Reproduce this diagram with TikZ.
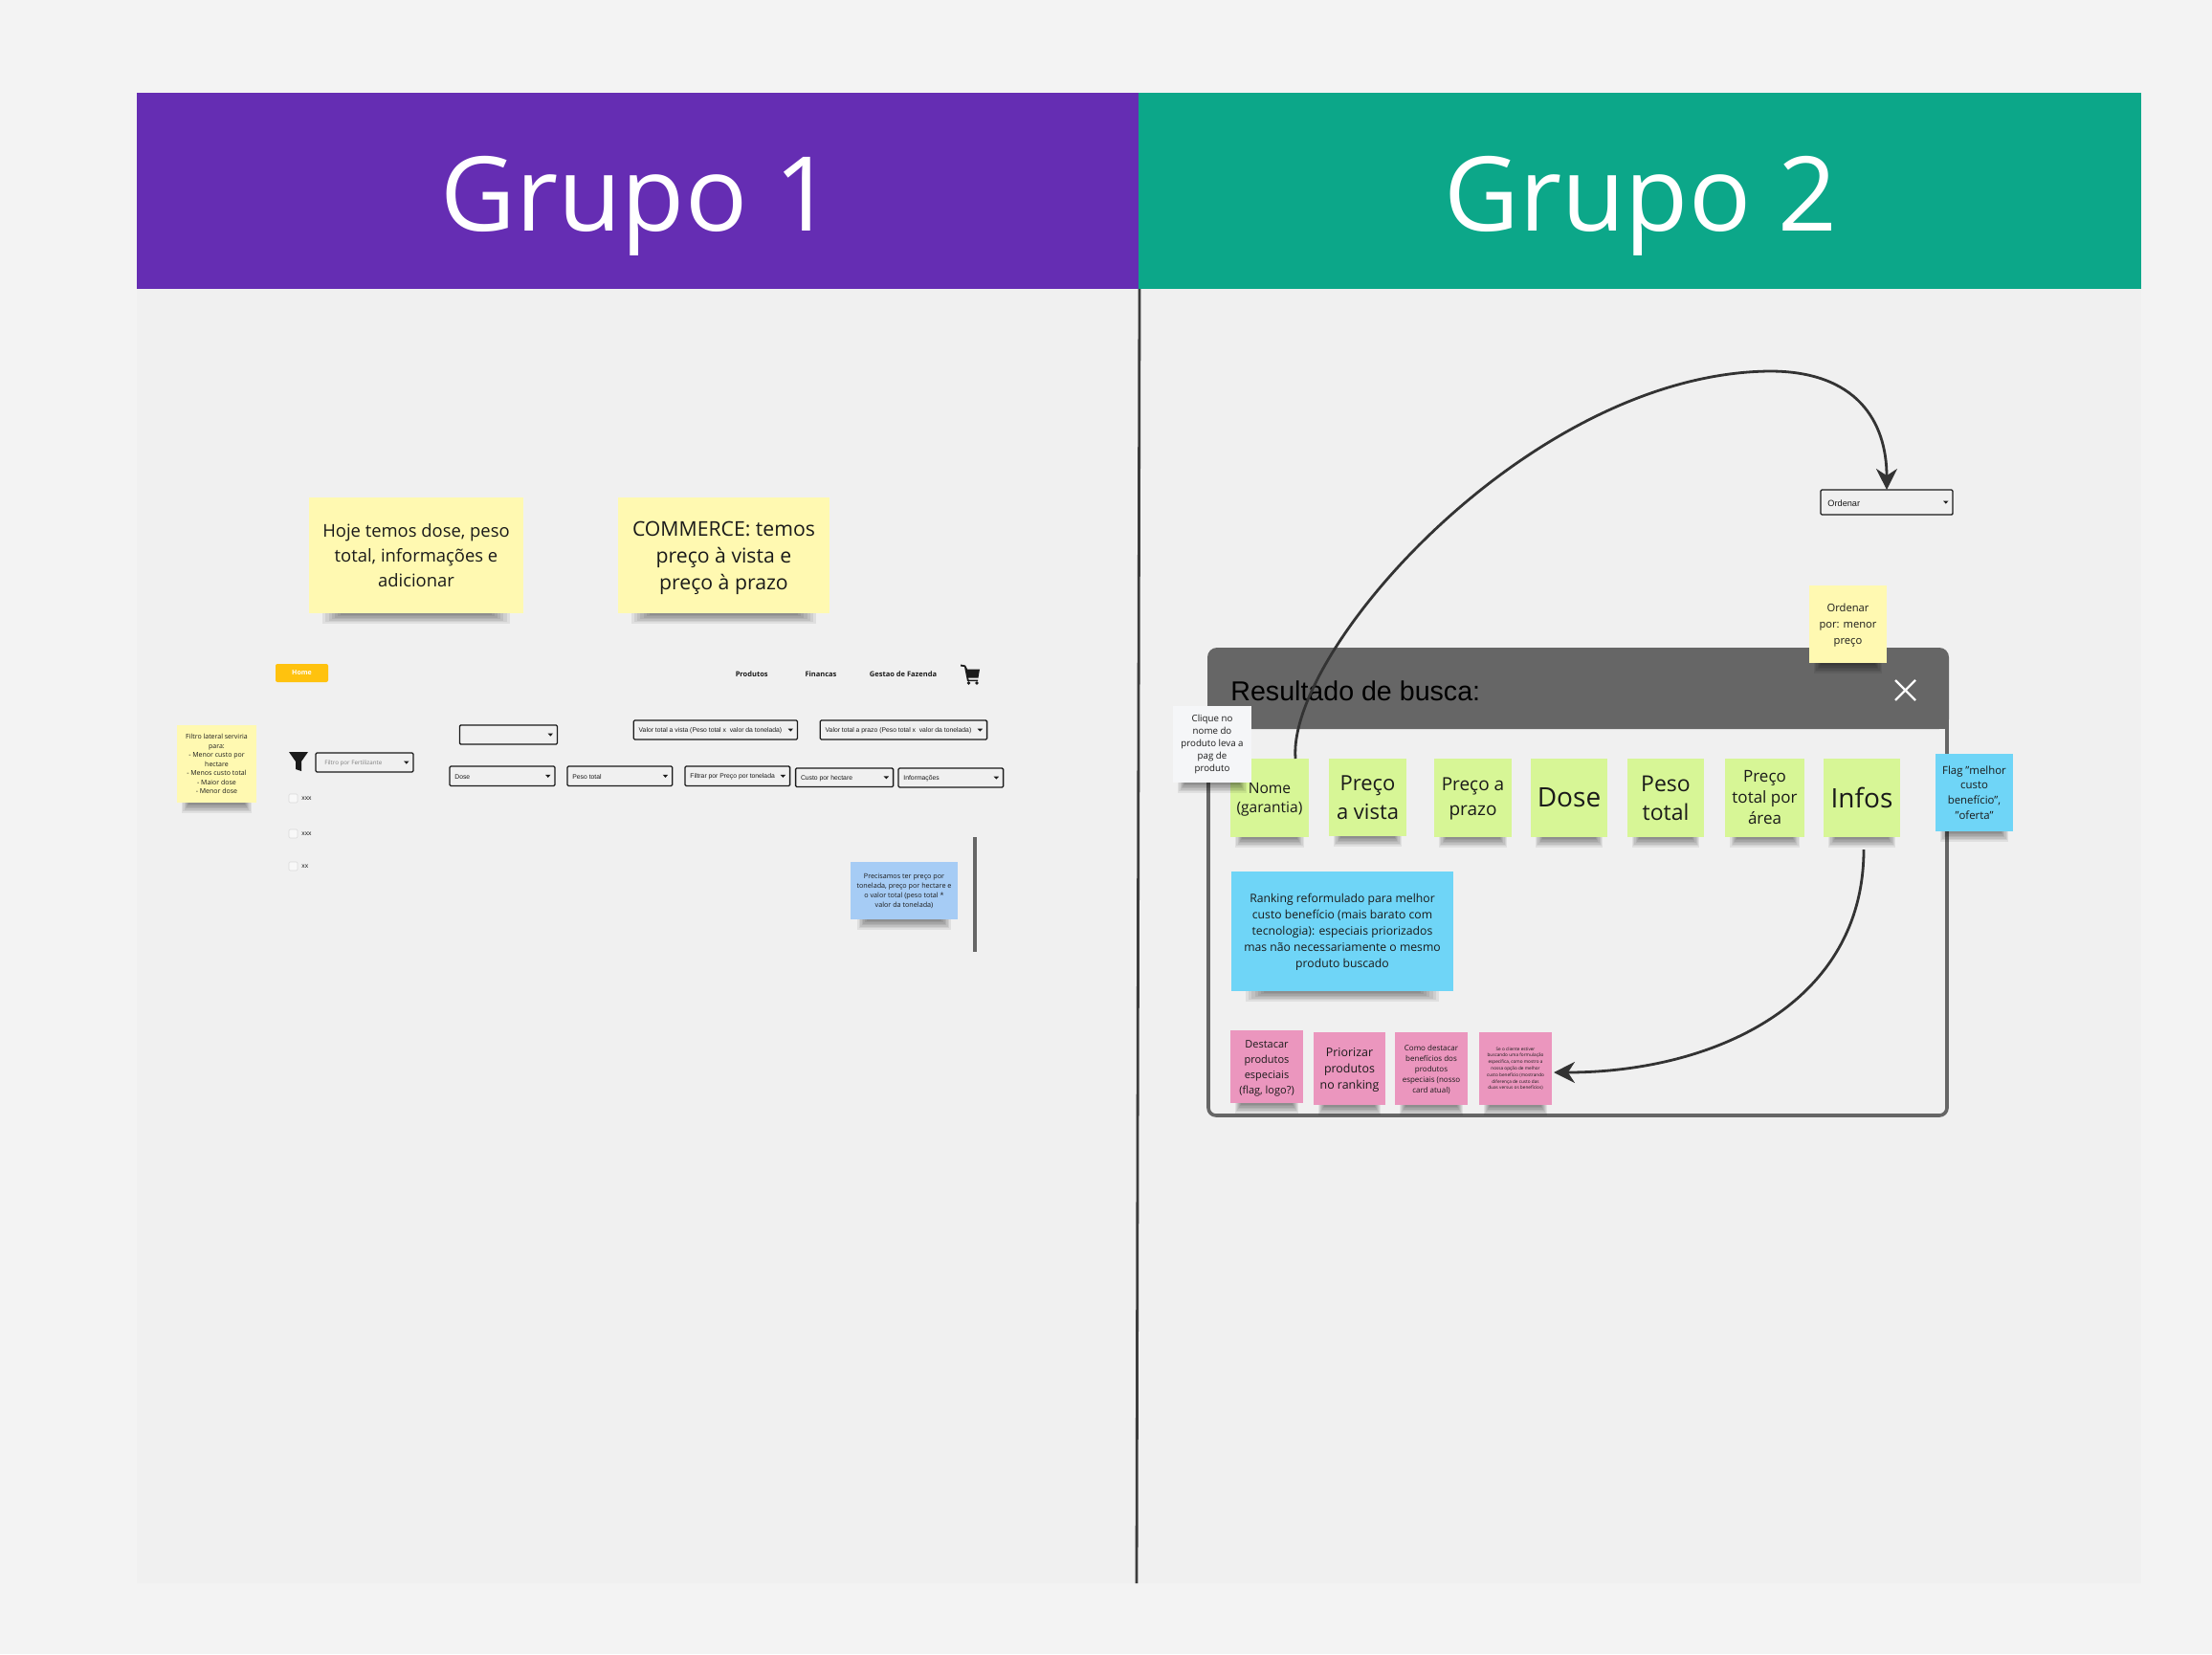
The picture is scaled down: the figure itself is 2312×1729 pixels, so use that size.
\documentclass[tikz,border=0pt]{standalone}
\usepackage{fontspec}
\setmainfont{Open Sans}
\newfontfamily\arialf{Liberation Sans}
\usetikzlibrary{arrows.meta,calc}
\definecolor{outerbg}{HTML}{F3F3F3}
\definecolor{boardbg}{HTML}{F0F0F0}
\definecolor{purplehd}{HTML}{652DB3}
\definecolor{greenhd}{HTML}{0CA789}
\definecolor{yellownote}{HTML}{FFF9B1}
\definecolor{greennote}{HTML}{D7F696}
\definecolor{cyannote}{HTML}{6FD5F7}
\definecolor{pinknote}{HTML}{EB96BE}
\definecolor{bluenote}{HTML}{A6CCF5}
\definecolor{whitenote}{HTML}{F5F6F8}
\definecolor{panelgray}{HTML}{666666}
\definecolor{inkc}{HTML}{1A1A1A}
\definecolor{arrowc}{HTML}{333333}
\tikzset{
  x=0.5pt,y=-0.5pt,
  notebox/.style={inner sep=0pt,outer sep=0pt,anchor=center},
  notetext/.style={inner sep=0pt,outer sep=0pt,align=center,text=inkc,anchor=center},
  ddbox/.style={draw=inkc,line width=0.65pt,rounded corners=0.6pt,inner sep=0pt,outer sep=0pt,anchor=center},
  ddlabel/.style={inner sep=0pt,anchor=west,text=inkc,yshift=-0.4pt,font=\arialf\fontsize{3.4}{4}\selectfont},
  flow/.style={draw=arrowc,line width=1.4pt,-{Stealth[length=11pt,width=11pt]}},
  check/.style={draw=white!85!black,fill=boardbg!50!white,line width=0.3pt,rounded corners=0.6pt,minimum size=4.5pt,inner sep=0pt},
  small/.style={inner sep=0pt,anchor=west,text=inkc,font=\arialf\fontsize{3.4}{4}\selectfont},
  navlabel/.style={inner sep=0pt,text=inkc,font=\bfseries\fontsize{3.75}{4.5}\selectfont},
  header/.style={inner sep=0pt,text=white,font=\fontsize{54}{62}\selectfont},
}
\def\nudge{0pt}
% name x1 y1 x2 y2 fill size leading text
\newcommand{\stickynote}[9]{%
  \foreach \k in {1,...,7}{%
    \fill[black,opacity=0.07]
      ({#2+(0.05+0.014*\k)*(#4-#2)},#5) rectangle ({#4-(0.05+0.014*\k)*(#4-#2)},{#5+(8-\k)*1.5});
  }%
  \pgfmathsetlengthmacro{\nw}{(#4-#2)*0.5pt}%
  \pgfmathsetlengthmacro{\nh}{(#5-#3)*0.5pt}%
  \node[notebox,fill=#6,minimum width=\nw,minimum height=\nh] (#1) at ({(#2+#4)/2},{(#3+#5)/2}) {};%
  \node[notetext,yshift=-\nudge,font=\fontsize{#7}{#8}\selectfont] (#1t) at (#1) {#9};%
  \gdef\nudge{0pt}%
}
% name x1 y1 x2 y2 label
\newcommand{\dropdown}[6]{%
  \pgfmathsetlengthmacro{\nw}{(#4-#2)*0.5pt}%
  \pgfmathsetlengthmacro{\nh}{(#5-#3)*0.5pt}%
  \node[ddbox,minimum width=\nw,minimum height=\nh] (#1) at ({(#2+#4)/2},{(#3+#5)/2}) {};%
  \node[ddlabel] (#1t) at ({#2+5},{(#3+#5)/2}) {#6};%
  \fill[inkc] ({#4-10},{(#3+#5)/2-1.4}) -- ({#4-4.5},{(#3+#5)/2-1.4}) -- ({#4-7.2},{(#3+#5)/2+1.6}) -- cycle;%
}
\begin{document}
\begin{tikzpicture}
\useasboundingbox (0,0) rectangle (2312,1729);
\fill[outerbg] (0,0) rectangle (2312,1729);
\fill[boardbg] (143,97) rectangle (2238,1655);
% headers
\fill[purplehd] (143,97) rectangle (1190,302);
\fill[greenhd] (1190,97) rectangle (2238,302);
\node[header] (g1) at (666,215) {Grupo 1};
\node[header] (g2) at (1715,215) {Grupo 2};
\draw[inkc!85!white,line width=1.4pt] (1191,302) -- (1188,1655);

% Grupo 1
\stickynote{n1}{323}{520}{547}{641}{yellownote}{9.2}{13.2}{Hoje temos dose, peso\\total, informações e\\adicionar}
\gdef\nudge{1.4pt}
\stickynote{n2}{646}{520}{867}{641}{yellownote}{10.6}{14.2}{COMMERCE: temos\\preço à vista e\\preço à prazo}
\node[fill={rgb,255:red,255;green,194;blue,14},rounded corners=1pt,minimum width=27.5pt,minimum height=9.5pt,inner sep=0pt,text=white,font=\bfseries\fontsize{3.5}{4}\selectfont] (home) at (315.5,703.5) {Home};
\node[navlabel] (nprod) at (785.7,704.5) {Produtos};
\node[navlabel] (nfin) at (858,704.5) {Financas};
\node[navlabel] (nges) at (944,704.5) {Gestao de Fazenda};
% cart
\begin{scope}[yshift=0.75pt]
\fill[inkc] (1004,696) -- (1009,697) -- (1011,701) -- (1024,701) -- (1022.5,710) -- (1012,710) -- (1012.5,712) -- (1022,712) -- (1022,713.5) -- (1011,713.5) -- (1008,698.5) -- (1004,698) -- cycle;
\fill[inkc] (1012.5,715.5) circle (1.9);
\fill[inkc] (1021,715.5) circle (1.9);
\end{scope}
\stickynote{n3}{185}{758}{268}{839}{yellownote}{3.5}{4.75}{Filtro lateral serviria\\para:\\- Menor custo por\\hectare\\- Menos custo total\\- Maior dose\\- Menor dose}
% funnel
\fill[inkc] (302,786) -- (322,786) -- (315,796) -- (315,806) -- (309,804) -- (309,796) -- cycle;
\dropdown{d0}{330}{787}{432}{807}{}
\node[small,text=gray,yshift=-0.4pt,font=\fontsize{3.1}{4}\selectfont] (d0t2) at (339,797) {Filtro por Fertilizante};
\node[check] (c1) at (306.5,834.5) {};
\node[check] (c2) at (306.5,871.5) {};
\node[check] (c3) at (306.5,905.5) {};
\node[small] (c1t) at (315,835) {xxx};
\node[small] (c2t) at (315,872) {xxx};
\node[small] (c3t) at (315,906) {xx};
\dropdown{d1}{480.4}{758}{582.5}{778}{}
\dropdown{d2}{662.3}{753}{833.5}{773}{Valor total a vista (Peso total x\ \ valor da tonelada)}
\dropdown{d3}{857.3}{753}{1031.6}{773}{Valor total a prazo (Peso total x\ \ valor da tonelada)}
\dropdown{d4}{470}{801}{580}{821.5}{Dose}
\dropdown{d5}{593}{801}{702.7}{821.5}{Peso total}
\dropdown{d6}{716}{801}{825.6}{821.5}{Filtrar por Preço por tonelada}
\dropdown{d7}{831.6}{803}{933.6}{822.5}{Custo por hectare}
\dropdown{d8}{939}{803}{1048.6}{823}{Informações}
\stickynote{n4}{889}{901}{1001}{961}{bluenote}{3.6}{5}{Precisamos ter preço por\\tonelada, preço por hectare e\\o valor total (peso total *\\valor da tonelada)}
\fill[panelgray] (1017,875) rectangle (1021,995);

% Grupo 2 panel
\draw[panelgray,line width=1.8pt,rounded corners=4pt] (1263,760) -- (1263,1166) -- (2035,1166) -- (2035,760);
\fill[panelgray,rounded corners=5pt] (1262,762) -- (1262,677) -- (2037,677) -- (2037,762) [sharp corners] -- cycle;
\fill[panelgray] (1262,740) rectangle (2037,762);
\node[inner sep=0pt,anchor=west,text=black,font=\arialf\fontsize{14.3}{17}\selectfont] (res) at (1286,722) {Resultado de busca:};
\draw[white,line width=1.1pt] (1981,711) -- (2002,732) (2002,711) -- (1981,732);

\gdef\nudge{0.8pt}
\stickynote{a1}{1286}{793}{1368}{875}{greennote}{7.8}{10}{Nome\\(garantia)}
\stickynote{a2}{1389}{793}{1470}{874}{greennote}{11}{15.2}{Preço\\a vista}
\gdef\nudge{0.5pt}
\stickynote{a3}{1499}{793}{1580}{875}{greennote}{9.5}{13}{Preço a\\prazo}
\stickynote{a4}{1600}{793}{1680}{875}{greennote}{14}{16}{Dose}
\stickynote{a5}{1701}{793}{1781}{875}{greennote}{11.5}{15}{Peso\\total}
\stickynote{a6}{1803}{793}{1886}{875}{greennote}{8.5}{11}{Preço\\total por\\área}
\stickynote{a7}{1906}{793}{1986}{875}{greennote}{14}{16}{Infos}
\stickynote{a8}{2023}{788}{2104}{869}{cyannote}{5.7}{7.8}{Flag "melhor\\custo\\benefício",\\"oferta"}
\stickynote{a9}{1226}{738}{1308}{818}{whitenote}{4.85}{6.5}{Clique no\\nome do\\produto leva a\\pag de\\produto}
\gdef\nudge{0.5pt}
\stickynote{a10}{1287}{911}{1519}{1036}{cyannote}{6.1}{8.5}{Ranking reformulado para melhor\\custo benefício (mais barato com\\tecnologia): especiais priorizados\\mas não necessariamente o mesmo\\produto buscado}
\gdef\nudge{0.8pt}
\stickynote{p1}{1286}{1077}{1362}{1153}{pinknote}{5.5}{8}{Destacar\\produtos\\especiais\\(flag, logo?)}
\gdef\nudge{0.8pt}
\stickynote{p2}{1373}{1079}{1448}{1155}{pinknote}{6.2}{8.6}{Priorizar\\produtos\\no ranking}
\gdef\nudge{0.5pt}
\stickynote{p3}{1458}{1079}{1534}{1155}{pinknote}{4}{5.6}{Como destacar\\benefícios dos\\produtos\\especiais (nosso\\card atual)}
\stickynote{p4}{1546}{1079}{1622}{1155}{pinknote}{2.35}{3.4}{Se o cliente estiver\\buscando uma formulação\\específica, como mostro a\\nossa opção de melhor\\custo benefício (mostrando\\diferença de custo das\\duas versus os benefícios)}
\gdef\nudge{0.5pt}
\stickynote{o1}{1891}{612}{1972}{693}{yellownote}{5.6}{8.6}{Ordenar\\por: menor\\preço}
\dropdown{ord}{1903}{512}{2041}{538}{\hspace{1pt}\fontsize{4.6}{5}\selectfont Ordenar}

% connectors
\draw[flow] ($(a1.north)+(27,0)$) .. controls +(-9,-113) and (1600,390) .. (1850,388) .. controls (1940,388) and (ord.north |- 0,440) .. (ord.north);
\draw[flow] ($(a7.south)+(2,13)$) .. controls +(0,162) and (1790,1121) .. ($(p4.east)+(2,4)$);
\end{tikzpicture}
\end{document}
